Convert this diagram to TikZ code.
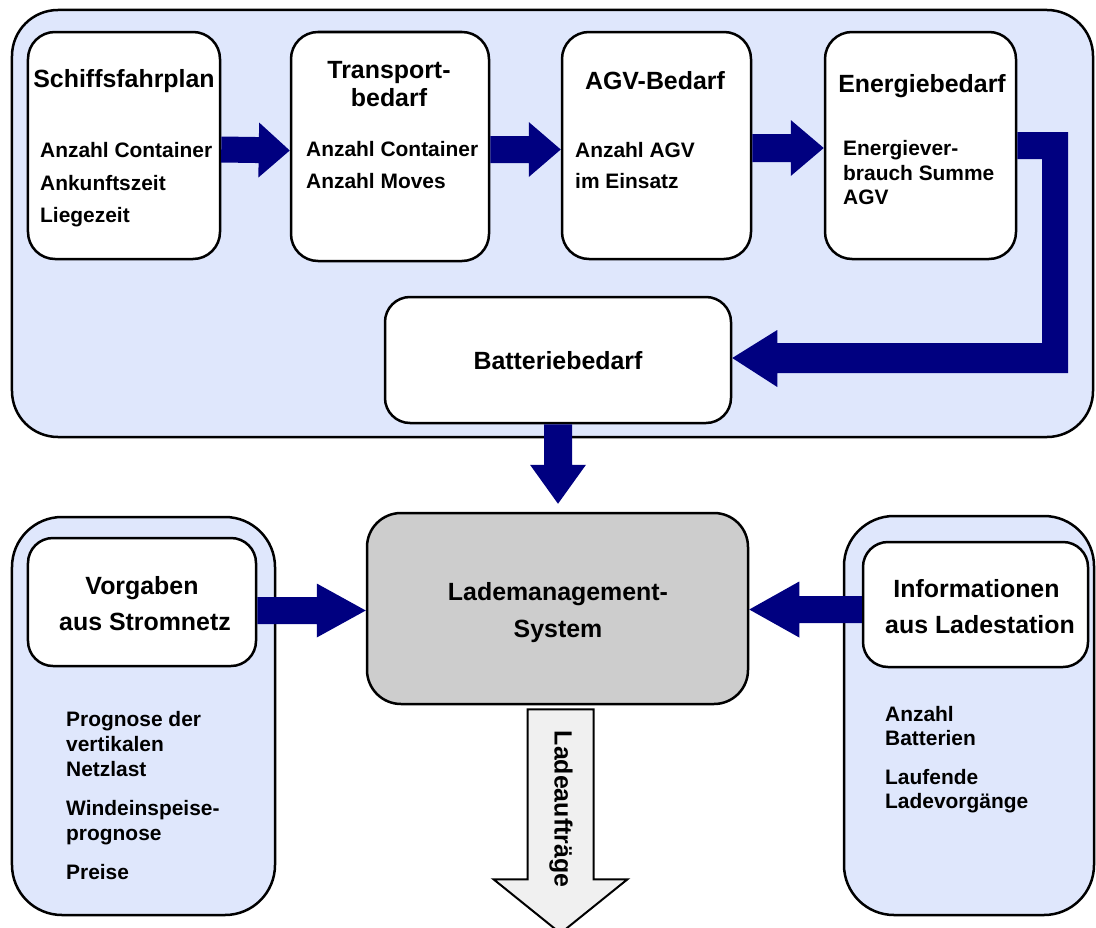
\documentclass[tikz,border=0pt]{standalone}
\usepackage{fontspec}
\setmainfont{Liberation Sans}
\usetikzlibrary{calc}

\definecolor{arrowblue}{HTML}{000080}
\definecolor{panelblue}{HTML}{DFE7FC}
\definecolor{coregray}{HTML}{CDCDCD}
\definecolor{outfill}{HTML}{F0F0F0}

\tikzset{
  panel/.style={draw=black, line width=2.5bp, fill=panelblue, rounded corners=46bp, inner sep=0pt},
  stepbox/.style={draw=black, line width=2.5bp, fill=white, rounded corners=27bp, inner sep=0pt},
  corebox/.style={draw=black, line width=2.5bp, fill=coregray, rounded corners=34bp, inner sep=0pt},
  title/.style={font=\fontsize{25}{30}\selectfont\bfseries, anchor=base, inner sep=0pt},
  item/.style={font=\fontsize{21}{25}\selectfont\bfseries, anchor=base west, inner sep=0pt},
}

% Block arrow: [style] {start} {tip} {shaft half width} {head half width} {head length}
\newcommand\blockarrow[6][fill=arrowblue]{%
  \path #2 coordinate (ba-s) #3 coordinate (ba-t);
  \path ($(ba-t)!#6!(ba-s)$) coordinate (ba-h);
  \path[#1] ($(ba-s)!#4!90:(ba-t)$) -- ($(ba-h)!#4!-90:(ba-s)$)
    -- ($(ba-h)!#5!-90:(ba-s)$) -- (ba-t) -- ($(ba-h)!#5!90:(ba-s)$)
    -- ($(ba-h)!#4!90:(ba-s)$) -- ($(ba-s)!#4!-90:(ba-t)$) -- cycle;
}

\begin{document}
\begin{tikzpicture}[x=1bp, y=-1bp]
\useasboundingbox (0,0) rectangle (1096,928);
\clip (0,0) rectangle (1096,928);

% ---------- panels ----------
\node[panel, minimum width=1081bp, minimum height=427bp] (toppanel) at (552.5,223.5) {};
\node[panel, rounded corners=50bp, minimum width=263bp, minimum height=398bp] (leftpanel) at (143.5,716) {};
\node[panel, rounded corners=50bp, minimum width=250bp, minimum height=399bp] (rightpanel) at (969,715.5) {};

% ---------- boxes ----------
\node[stepbox, minimum width=192bp, minimum height=227bp] (b1) at (124,145.5) {};
\node[stepbox, minimum width=198bp, minimum height=229bp] (b2) at (390,146.5) {};
\node[stepbox, minimum width=189bp, minimum height=227bp] (b3) at (656.5,145.5) {};
\node[stepbox, minimum width=191bp, minimum height=227bp] (b4) at (920.5,145.5) {};
\node[stepbox, rounded corners=25bp, minimum width=346bp, minimum height=126bp] (batt) at (558,360) {};
\node[corebox, minimum width=381bp, minimum height=191bp] (lms) at (557.5,608.5) {};
\node[stepbox, rounded corners=25bp, minimum width=228bp, minimum height=128bp] (vor) at (142,602) {};
\node[stepbox, rounded corners=25bp, minimum width=225bp, minimum height=125bp] (inf) at (975.5,604.5) {};

% ---------- connectors ----------
\blockarrow{($(b1.east)+(0,4)$)}{($(b2.west)+(0,4)$)}{13bp}{27.5bp}{31bp}
\blockarrow{($(b2.east)+(0,3)$)}{($(b3.west)+(0,4)$)}{13.5bp}{27.5bp}{32bp}
\blockarrow{($(b3.east)+(0,2.5)$)}{($(b4.west)+(0,2.5)$)}{14bp}{28bp}{33bp}

% bent arrow from the energy box down to the battery box
\coordinate (knee1) at (1055,145.5);
\coordinate (knee2) at (1055,358);
\coordinate (batttip) at ($(batt.east)+(0,-2)$);
\fill[arrowblue] ($(b4.east)+(0,-13.5)$) -- ($(knee1)+(13,-13.5)$)
  -- ($(knee2)+(13,15)$) -- ($(batttip)+(45,15)$) -- ($(batttip)+(45,29)$)
  -- (batttip) -- ($(batttip)+(45,-28)$) -- ($(batttip)+(45,-15)$)
  -- ($(knee2)+(-13,-15)$) -- ($(knee1)+(-13,13.5)$)
  -- ($(b4.east)+(0,13.5)$) -- cycle;

\blockarrow{(batt.south)}{($(lms.north)+(0.5,-8)$)}{14bp}{28bp}{39bp}
\blockarrow{($(vor.east)+(0,8.5)$)}{($(lms.west)+(0,2)$)}{13.5bp}{27bp}{49bp}
\blockarrow{($(inf.west)+(0,5)$)}{($(lms.east)+(0,1)$)}{13.5bp}{28bp}{50bp}

% output arrow below the charging management system
\blockarrow[draw=black, line width=2bp, fill=outfill]{($(lms.south)+(3,4)$)}{($(lms.south)+(3,228)$)}{33bp}{67bp}{54bp}
\node[font=\fontsize{25}{30}\selectfont\bfseries, rotate=-90, inner sep=0pt] (orders) at (561,809) {Ladeaufträge};

% ---------- texts ----------
\node[title] (t1) at (124,87) {Schiffsfahrplan};
\node[item] (t1a) at (40,157) {Anzahl Container};
\node[item] (t1b) at (40,190) {Ankunftszeit};
\node[item] (t1c) at (40,222) {Liegezeit};

\node[title] (t2) at (389,78) {Transport-};
\node[title] (t2b) at (389,106) {bedarf};
\node[item] (t2c) at (306,156) {Anzahl Container};
\node[item] (t2d) at (306,188) {Anzahl Moves};

\node[title] (t3) at (655,89) {AGV-Bedarf};
\node[item] (t3a) at (575,157) {Anzahl AGV};
\node[item] (t3b) at (575,188) {im Einsatz};

\node[title] (t4) at (922,92) {Energiebedarf};
\node[item] (t4a) at (843,155) {Energiever-};
\node[item] (t4b) at (843,180) {brauch Summe};
\node[item] (t4c) at (843,204) {AGV};

\node[title] (t5) at (558,369) {Batteriebedarf};

\node[title] (t6) at (558,600) {Lademanagement-};
\node[title] (t6b) at (558,637) {System};

\node[title] (t7) at (142,594) {Vorgaben};
\node[title] (t7b) at (145,630) {aus Stromnetz};
\node[item] (t7c) at (66,726) {Prognose der};
\node[item] (t7d) at (66,751) {vertikalen};
\node[item] (t7e) at (66,776) {Netzlast};
\node[item] (t7f) at (66,815) {Windeinspeise-};
\node[item] (t7g) at (66,840) {prognose};
\node[item] (t7h) at (66,879) {Preise};

\node[title] (t8) at (976.5,597) {Informationen};
\node[title] (t8b) at (980,633) {aus Ladestation};
\node[item] (t8c) at (885,721) {Anzahl};
\node[item] (t8d) at (885,745) {Batterien};
\node[item] (t8e) at (885,784) {Laufende};
\node[item] (t8f) at (885,808) {Ladevorgänge};
\end{tikzpicture}
\end{document}
